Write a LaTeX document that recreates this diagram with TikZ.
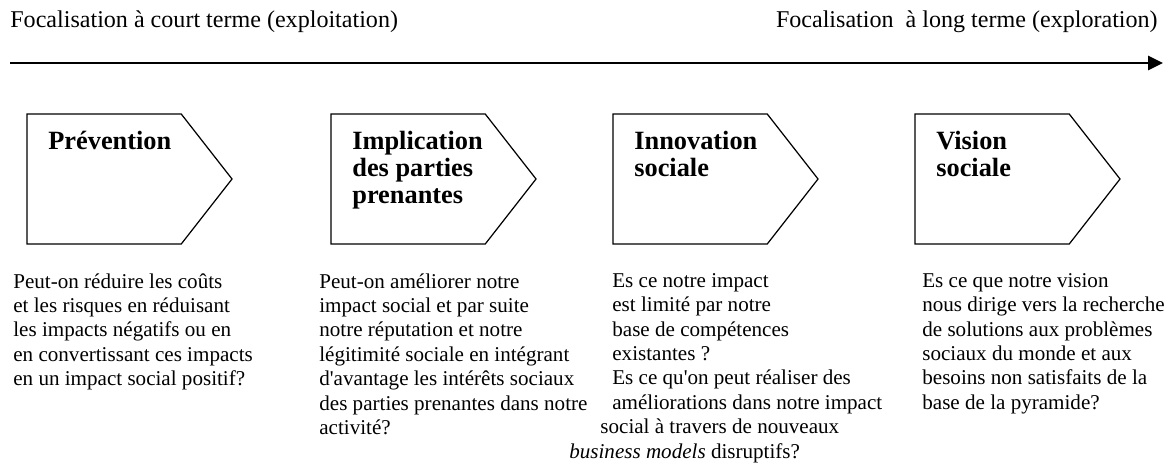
\documentclass[tikz,border=0pt]{standalone}
\usepackage{fontspec}
\setmainfont{Liberation Serif}
\usetikzlibrary{shapes.symbols,positioning,arrows.meta}

\tikzset{
  etape/.style={signal, signal to=east, draw, line width=0.7pt,
    minimum width=116.7pt, minimum height=74pt, signal pointer angle=104,
    inner sep=0pt, outer sep=0pt, anchor=north west},
  titre/.style={font=\bfseries\fontsize{15}{15.2}\selectfont, align=left,
    anchor=north west, inner sep=0pt},
  question/.style={font=\fontsize{12}{13.9}\selectfont, align=left,
    anchor=north west, inner sep=0pt},
  horizon/.style={font=\fontsize{13.7}{16}\selectfont, inner sep=0pt}
}

\begin{document}
\begin{tikzpicture}[x=0.5692pt,y=-0.5692pt]
\useasboundingbox (0,0) rectangle (1172,465);

% axe du temps
\node[horizon, anchor=west] (court) at (10,22) {Focalisation à court terme (exploitation)};
\node[horizon, anchor=east] (long) at (1158,22) {Focalisation \ à long terme (exploration)};
\coordinate (debut) at (10,63);
\coordinate (fin) at (1163,63);
\draw[line width=1.4pt, -{Triangle[length=8.5pt,width=8pt]}] (debut) -- (fin);

% les quatre etapes
\node[etape] (prev) at (27,114) {};
\node[etape] (impl) at (331,114) {};
\node[etape] (inno) at (613,114) {};
\node[etape] (visi) at (915,114) {};

\node[titre] (tprev) at (48,131) {Prévention};
\node[titre] (timpl) at (352,131) {Implication\\des parties\\prenantes};
\node[titre] (tinno) at (634,131) {Innovation\\sociale};
\node[titre] (tvisi) at (936,131) {Vision\\sociale};

% questions
\node[question] (qprev) at (13,273) {Peut-on réduire les coûts\\et les risques en réduisant\\les impacts négatifs ou en\\en convertissant ces impacts\\en un impact social positif?};
\node[question] (qimpl) at (319,273) {Peut-on améliorer notre\\impact social et par suite\\notre réputation et notre\\légitimité sociale en intégrant\\d\textquotesingle avantage les intérêts sociaux\\des parties prenantes dans notre\\activité?};
\node[question] (qinno) at (612,273) {Es ce notre impact\\est limité par notre\\base de compétences\\existantes ?\\Es ce qu\textquotesingle on peut réaliser des\\améliorations dans notre impact\\\hspace*{-6.8pt}social à travers de nouveaux\\\hspace*{-24.5pt}\textit{business models} disruptifs?};
\node[question] (qvisi) at (922,273) {Es ce que notre vision\\nous dirige vers la recherche\\de solutions aux problèmes\\sociaux du monde et aux\\besoins non satisfaits de la\\base de la pyramide?};
\end{tikzpicture}
\end{document}
